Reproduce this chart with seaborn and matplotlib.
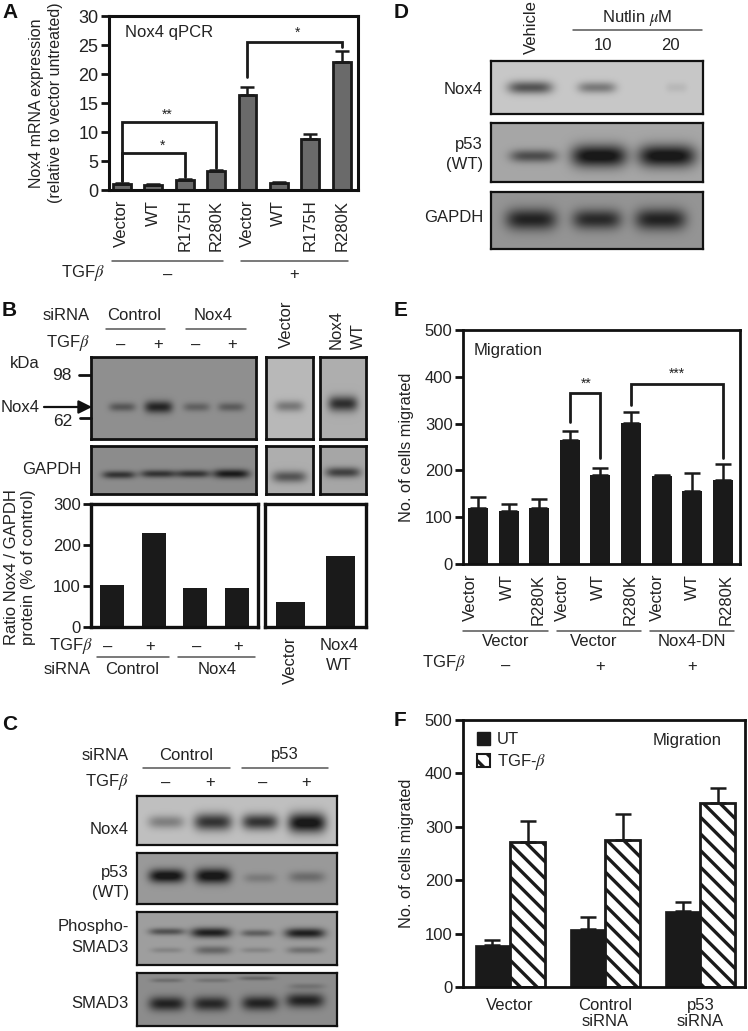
import numpy as np
import pandas as pd
import matplotlib
matplotlib.use('Agg')
import matplotlib.pyplot as plt
from matplotlib.patches import Patch
import seaborn as sns

W, H = 748, 1031
INK = '#222222'
DARK = '#1a1a1a'

# ─── Panel A values ───────────────────────────────────────────────────────────
A_LABELS = ['Vector', 'WT', 'R175H', 'R280K', 'Vector', 'WT', 'R175H', 'R280K']
A_VALUES = [1.0, 0.9, 1.7, 3.3, 16.3, 1.2, 8.8, 22.0]
A_TOPS   = [1.2, 1.0, 1.9, 3.5, 17.8, 1.4, 9.7, 24.0]
A_TICKS  = [0, 5, 10, 15, 20, 25, 30]

# ─── Panel B values ───────────────────────────────────────────────────────────
B_VALUES_SI  = [103, 230, 95, 95]
B_VALUES_OE  = [62, 172]
B_TICKS      = [0, 100, 200, 300]

# ─── Panel E values ───────────────────────────────────────────────────────────
E_LABELS = ['Vector', 'WT', 'R280K'] * 3
E_VALUES = [120, 113, 120, 265, 191, 302, 188, 156, 180]
E_TOPS   = [143, 128, 138, 285, 205, 325, 190, 194, 213]
E_LABEL_SHIFT = [-0.25, -0.03, -0.03, -0.23, -0.06, -0.03, -0.13, 0.0, 0.1]
MIG_TICKS = [0, 100, 200, 300, 400, 500]

# ─── Panel F values ───────────────────────────────────────────────────────────
F_GROUPS  = ['Vector', 'Control\nsiRNA', 'p53\nsiRNA']
F_UT      = [78, 108, 143]
F_UT_TOPS = [88, 132, 160]
F_TGF      = [272, 276, 345]
F_TGF_TOPS = [310, 324, 372]

# ─── Blot bands: (x centre, y centre, half width, half height, darkness) ──────
BLOTS = {
    'b_nox4':  (0.56, [(.19, .61, .08, .04, .22), (.41, .61, .085, .055, .42),
                       (.64, .61, .08, .04, .18), (.85, .61, .08, .04, .2)]),
    'b_nox4v': (0.72, [(.5, .6, .3, .05, .25)]),
    'b_nox4w': (0.68, [(.5, .57, .32, .07, .5)]),
    'b_gapdh': (0.55, [(.17, .6, .1, .06, .35), (.41, .58, .11, .06, .35),
                       (.62, .58, .1, .06, .35), (.85, .58, .11, .07, .45)]),
    'b_gapv':  (0.68, [(.5, .64, .36, .09, .35)]),
    'b_gapw':  (0.65, [(.5, .55, .38, .08, .4)]),
    'c_nox4':  (0.75, [(.146, .53, .09, .1, .25), (.38, .53, .095, .13, .55),
                       (.615, .53, .09, .12, .55), (.85, .55, .095, .15, .7)]),
    'c_p53':   (0.60, [(.15, .45, .09, .1, .55), (.38, .45, .09, .11, .55),
                       (.615, .49, .08, .07, .12), (.85, .47, .09, .08, .18)]),
    'c_psmad': (0.62, [(.15, .37, .09, .05, .3), (.37, .39, .1, .07, .5),
                       (.6, .4, .08, .05, .25), (.84, .4, .1, .07, .5),
                       (.15, .72, .08, .04, .1), (.38, .72, .09, .06, .22),
                       (.6, .72, .08, .04, .1), (.84, .72, .09, .05, .18)]),
    'c_smad':  (0.55, [(.15, .58, .09, .1, .42), (.37, .58, .09, .1, .4),
                       (.615, .57, .09, .1, .42), (.84, .52, .095, .1, .42),
                       (.15, .14, .08, .03, .12), (.38, .14, .09, .03, .1),
                       (.6, .1, .09, .03, .15), (.85, .25, .09, .04, .1)]),
    'd_nox4':  (0.78, [(.185, .5, .105, .09, .45), (.5, .5, .09, .08, .3),
                       (.875, .5, .05, .07, .06)]),
    'd_p53':   (0.65, [(.2, .56, .11, .08, .35), (.51, .56, .13, .14, .6),
                       (.83, .56, .135, .14, .6)]),
    'd_gapdh': (0.58, [(.19, .48, .12, .14, .45), (.5, .48, .115, .13, .42),
                       (.8, .48, .12, .14, .45)]),
}


def px_axes(fig, left, top, right, bottom, **kw):
    return fig.add_axes([left / W, 1 - bottom / H, (right - left) / W, (bottom - top) / H], **kw)


def frame(ax, lw=2.0):
    for s in ax.spines.values():
        s.set_visible(True)
        s.set_color('#111111')
        s.set_linewidth(lw)


# ─── Gel picture drawn as a fine heatmap ──────────────────────────────────────
def draw_blot(fig, name, left, top, right, bottom, lw=1.6):
    ax = px_axes(fig, left, top, right, bottom)
    h, w = bottom - top, right - left
    bg, bands = BLOTS[name]
    yy, xx = np.mgrid[0:h, 0:w]
    xx = (xx + 0.5) / w
    yy = (yy + 0.5) / h
    grid = np.full((h, w), float(bg))
    for cx, cy, hw, hh, dark in bands:
        grid -= dark * np.exp(-((xx - cx) / hw) ** 4 - ((yy - cy) / (hh * 1.35)) ** 2)
    sns.heatmap(np.clip(grid, 0.1, 1), ax=ax, cmap='gray', vmin=0, vmax=1, cbar=False,
                xticklabels=False, yticklabels=False)
    frame(ax, lw)
    return ax


# ─── Bars with upper error line only ──────────────────────────────────────────
def draw_bars(ax, values, tops, color, width, ec=DARK, lw=0.0, cap=5.0):
    sns.barplot(x=list(range(len(values))), y=values, ax=ax, color=color, saturation=1,
                width=width, edgecolor=ec, linewidth=lw, errorbar=None)
    if tops is not None:
        up = np.array(tops) - np.array(values)
        ax.errorbar(range(len(values)), values, yerr=[np.zeros(len(up)), up], fmt='none',
                    ecolor=DARK, elinewidth=1.8, capsize=cap, capthick=1.8, zorder=4)


def bracket(ax, x0, y0, x1, y1, ytop, lw=2.0):
    ax.plot([x0, x0, x1, x1], [y0, ytop, ytop, y1], color=DARK, lw=lw,
            solid_joinstyle='miter', clip_on=False, zorder=5)


def style_y(ax, ticks, size=12.5, length=5.5):
    ax.set_yticks(ticks)
    ax.set_ylim(ticks[0], ticks[-1])
    ax.tick_params(axis='y', left=True, length=length, width=2.0, labelsize=size,
                   labelcolor=INK, color='#111111', pad=2)
    ax.set_ylabel('')
    ax.set_xlabel('')


sns.set_theme(style='white')
plt.rcParams['font.family'] = ['Liberation Sans', 'DejaVu Sans']
plt.rcParams['mathtext.fontset'] = 'stix'
plt.rcParams['hatch.linewidth'] = 2.4
plt.rcParams['text.color'] = INK

fig = plt.figure(figsize=(W / 100, H / 100), dpi=100)

# ─── A ────────────────────────────────────────────────────────────────────────
ax = px_axes(fig, 109, 16, 358, 190)
draw_bars(ax, A_VALUES, A_TOPS, '#6a6a6a', 0.57, lw=2.0)
ax.set_xlim(-0.41, 7.52)
style_y(ax, A_TICKS, size=13)
frame(ax, 2.2)
ax.set_xticks(range(8))
ax.set_xticklabels(A_LABELS, rotation=90, fontsize=12, color=INK)
ax.tick_params(axis='x', bottom=False, length=0, pad=7)
bracket(ax, 0, 1.6, 2, 2.2, 6.3)
bracket(ax, 0, 1.6, 3, 3.8, 11.8)
bracket(ax, 4, 19.5, 7, 24.6, 25.5)

# ─── B bars ───────────────────────────────────────────────────────────────────
ax = px_axes(fig, 91, 504, 258, 627)
draw_bars(ax, B_VALUES_SI, None, DARK, 0.58)
ax.set_xlim(-0.5, 3.5)
style_y(ax, B_TICKS, size=12)
frame(ax, 2.4)
ax.set_xticks([])

ax = px_axes(fig, 265, 504, 366, 627)
draw_bars(ax, B_VALUES_OE, None, DARK, 0.58)
ax.set_xlim(-0.5, 1.52)
ax.set_ylim(0, 300)
ax.set_xticks([])
ax.set_yticks([])
frame(ax, 2.4)

# ─── E ────────────────────────────────────────────────────────────────────────
ax = px_axes(fig, 463, 330, 740, 564)
draw_bars(ax, E_VALUES, E_TOPS, DARK, 0.65, cap=5.5)
ax.set_xlim(-0.49, 8.56)
style_y(ax, MIG_TICKS, size=12)
frame(ax, 2.0)
ax.set_xticks(np.arange(9) + np.array(E_LABEL_SHIFT))
ax.set_xticklabels(E_LABELS, rotation=90, fontsize=12, color=INK)
ax.tick_params(axis='x', bottom=False, length=0, pad=7)
bracket(ax, 3, 304, 4, 226, 365)
bracket(ax, 5, 340, 8, 226, 384)

# ─── F ────────────────────────────────────────────────────────────────────────
df_f = pd.DataFrame({
    'group': F_GROUPS * 2,
    'treat': ['UT'] * 3 + ['TGF'] * 3,
    'cells': F_UT + F_TGF,
})
ax = px_axes(fig, 463, 720, 745, 987)
sns.barplot(data=df_f, x='group', y='cells', hue='treat', order=F_GROUPS, hue_order=['UT', 'TGF'],
            palette={'UT': DARK, 'TGF': 'white'}, saturation=1, width=0.74, gap=0,
            errorbar=None, legend=False, ax=ax)
for bar in ax.containers[0]:
    bar.set_edgecolor(DARK)
    bar.set_linewidth(0.5)
for bar in ax.containers[1]:
    bar.set_edgecolor(DARK)
    bar.set_linewidth(2.0)
    bar.set_hatch('\\\\')
for container, vals, tops in [(ax.containers[0], F_UT, F_UT_TOPS), (ax.containers[1], F_TGF, F_TGF_TOPS)]:
    for bar, val, top in zip(container, vals, tops):
        ax.errorbar(bar.get_x() + bar.get_width() / 2, val, yerr=[[0], [top - val]], fmt='none',
                    ecolor=DARK, elinewidth=1.8, capsize=6, capthick=1.8, zorder=1)
ax.set_xlim(-0.495, 2.47)
style_y(ax, MIG_TICKS, size=12)
frame(ax, 2.0)
ax.tick_params(axis='x', bottom=False, length=0, labelsize=12, labelcolor=INK, pad=8)
for lab in ax.get_xticklabels():
    lab.set_linespacing(1.1)
handles = [Patch(facecolor=DARK, edgecolor=DARK, label='UT'),
           Patch(facecolor='white', edgecolor=DARK, hatch='\\\\', lw=1.5, label='TGF-$\\beta$')]
ax.legend(handles=handles, loc='upper left', frameon=False, fontsize=12, handlelength=0.8,
          handleheight=0.8, handletextpad=0.4, labelspacing=0.3, borderaxespad=0,
          bbox_to_anchor=(0.025, 0.98))

# ─── Blots ────────────────────────────────────────────────────────────────────
draw_blot(fig, 'b_nox4', 91, 357, 256, 439, lw=2.0)
draw_blot(fig, 'b_nox4v', 266, 357, 313, 439, lw=2.0)
draw_blot(fig, 'b_nox4w', 320, 357, 366, 439, lw=2.0)
draw_blot(fig, 'b_gapdh', 91, 446, 256, 494, lw=2.0)
draw_blot(fig, 'b_gapv', 266, 446, 313, 494, lw=2.0)
draw_blot(fig, 'b_gapw', 320, 446, 366, 494, lw=2.0)
draw_blot(fig, 'c_nox4', 137, 796, 337, 845)
draw_blot(fig, 'c_p53', 137, 853, 337, 904)
draw_blot(fig, 'c_psmad', 137, 912, 337, 965)
draw_blot(fig, 'c_smad', 137, 973, 337, 1026)
draw_blot(fig, 'd_nox4', 491, 61, 703, 114)
draw_blot(fig, 'd_p53', 491, 123, 703, 182)
draw_blot(fig, 'd_gapdh', 491, 192, 703, 249)

# ─── Overlay for the labels around the panels, in pixels ──────────────────────
ov = fig.add_axes([0, 0, 1, 1], zorder=20)
ov.set_xlim(0, W)
ov.set_ylim(H, 0)
ov.axis('off')
ov.patch.set_alpha(0)


def txt(x, y, s, size=12, ha='center', va='center', **kw):
    ov.text(x, y, s, fontsize=size, ha=ha, va=va, color=INK, **kw)


def rule(x0, x1, y, lw=1.1):
    ov.plot([x0, x1], [y, y], color='#555555', lw=lw)


TGF = 'TGF$\\beta$'

for x, y, s in [(2, 13, 'A'), (2, 310, 'B'), (2, 724, 'C'), (394, 13, 'D'), (394, 311, 'E'), (394, 720, 'F')]:
    ov.text(x, y, s, fontsize=15, fontweight='bold', color='#111111', ha='left', va='center')

# A
txt(46, 103, 'Nox4 mRNA expression\n(relative to vector untreated)', size=11.5, rotation=90,
    linespacing=1.3, multialignment='center')
txt(125, 33, 'Nox4 qPCR', ha='left')
txt(163, 146, '*', size=10)
txt(167, 115, '**', size=10)
txt(298, 33, '*', size=10)
rule(112, 223, 261)
rule(241, 348, 261)
txt(105, 273, TGF, ha='right')
txt(168, 275, '–')
txt(294, 275, '+')

# B
txt(90, 316, 'siRNA', ha='right')
txt(134, 315, 'Control')
txt(213, 315, 'Nox4')
rule(106, 165, 329)
rule(186, 246, 329)
txt(90, 343, TGF, ha='right')
for x, s in zip([121, 158, 196, 232], '–+–+'):
    txt(x, 345, s)
txt(286, 348, 'Vector', rotation=90, va='bottom')
txt(336, 349, 'Nox4', rotation=90, va='bottom')
txt(358, 349, 'WT', rotation=90, va='bottom')
txt(10, 363, 'kDa', ha='left')
txt(72, 375, '98', size=12.5, ha='right')
txt(72, 421, '62', size=12.5, ha='right')
txt(1, 407, 'Nox4', ha='left')
txt(81, 470, 'GAPDH', ha='right')
ov.plot([79, 90], [375, 375], color='#111111', lw=2)
ov.plot([80, 91], [418, 418], color='#111111', lw=2)
ov.annotate('', xy=(92, 407), xytext=(44, 407),
            arrowprops=dict(arrowstyle='-|>', color='#111111', lw=1.6, mutation_scale=20,
                            shrinkA=0, shrinkB=0))
txt(20, 567, 'Ratio Nox4 / GAPDH\nprotein (% of control)', size=12, rotation=90,
    linespacing=1.2, multialignment='center')
txt(93, 646, TGF, ha='right')
for x, s in zip([108, 150, 197, 238], '–+–+'):
    txt(x, 647, s)
rule(97, 169, 657)
rule(178, 255, 657)
txt(91, 670, 'siRNA', ha='right')
txt(132, 670, 'Control')
txt(217, 670, 'Nox4')
txt(290, 637, 'Vector', rotation=90, va='top')
txt(339, 645, 'Nox4')
txt(339, 665, 'WT')

# C
txt(129, 755, 'siRNA', ha='right')
txt(186, 755, 'Control')
txt(285, 755, 'p53')
rule(143, 230, 768)
rule(242, 328, 768)
txt(129, 782, TGF, ha='right')
for x, s in zip([166, 210, 263, 306], '–+–+'):
    txt(x, 783, s)
for y, s in [(830, 'Nox4'), (872, 'p53'), (892, '(WT)'), (927, 'Phospho-'), (948, 'SMAD3'), (1004, 'SMAD3')]:
    txt(129, y, s, ha='right')

# D
txt(531, 54, 'Vehicle', rotation=90, va='bottom')
txt(637, 18, 'Nutlin $\\mu$M')
rule(573, 702, 30)
txt(603, 46, '10')
txt(670, 46, '20')
for y, s in [(89, 'Nox4'), (145, 'p53'), (165, '(WT)'), (218, 'GAPDH')]:
    txt(483, y, s, ha='right')

# E
txt(407, 447, 'No. of cells migrated', size=11.8, rotation=90)
txt(474, 350, 'Migration', ha='left')
txt(586, 384, '**', size=10)
txt(677, 374, '***', size=10)
rule(463, 548, 631)
rule(557, 641, 631)
rule(650, 734, 631)
txt(506, 642, 'Vector')
txt(594, 642, 'Vector')
txt(692, 642, 'Nox4-DN')
txt(466, 663, TGF, ha='right')
for x, s in zip([506, 600, 692], '–++'):
    txt(x, 666, s)

# F
txt(407, 853, 'No. of cells migrated', size=11.8, rotation=90)
txt(653, 740, 'Migration', ha='left')

fig.savefig('out.png', dpi=100)
